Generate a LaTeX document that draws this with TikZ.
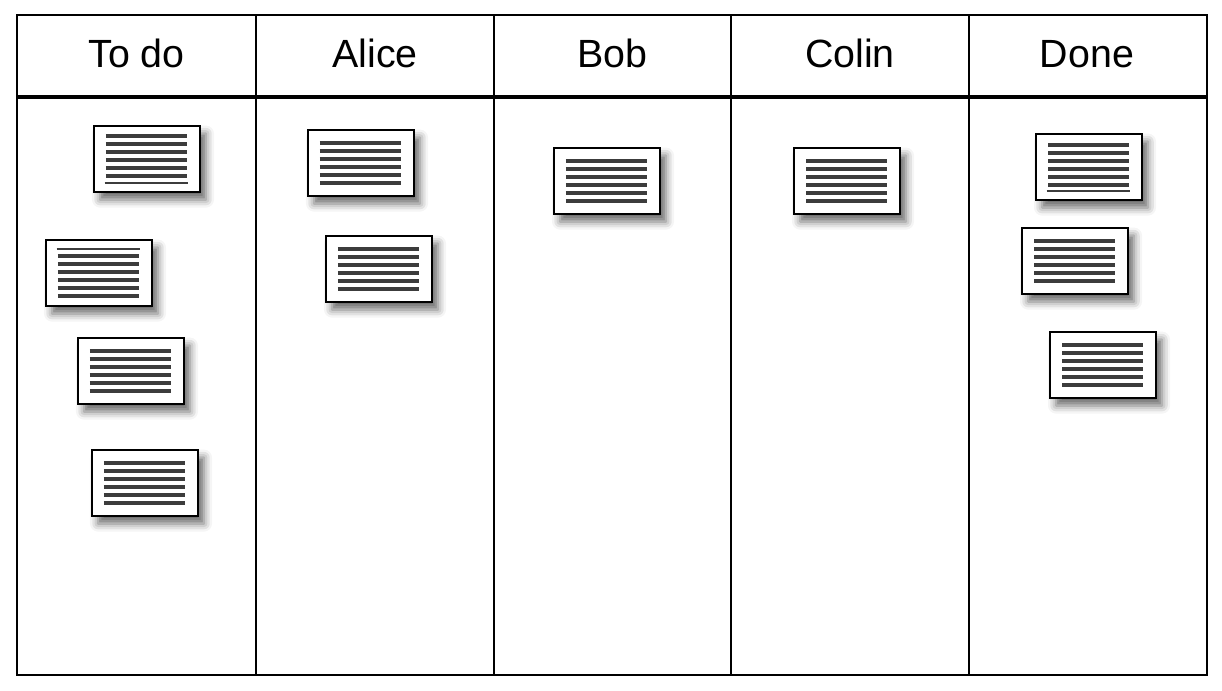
\documentclass[tikz,border=0pt]{standalone}
\usepackage{fontspec}
\setmainfont{Liberation Sans}
\usetikzlibrary{shadows.blur}
\definecolor{ink}{HTML}{3C3C3C}
\tikzset{
	card/.style={draw=black,line width=1.8pt,fill=white,inner sep=0pt,
		minimum width=2.65cm,minimum height=1.65cm,
		blur shadow={shadow xshift=0.15cm,shadow yshift=-0.19cm,shadow blur radius=0.2cm,shadow opacity=60},
		path picture={\foreach \k in {-2.5,-1.5,...,2.5}
			\draw[ink,line width=2.8pt] ([xshift=0.3cm,yshift={\k*0.2cm+(#1)}]path picture bounding box.west) -- ([xshift=-0.33cm,yshift={\k*0.2cm+(#1)}]path picture bounding box.east);}},
	card/.default=0cm
}

\begin{document}
\begin{tikzpicture}[x=0.025cm,y=-0.025cm]
			\tikzstyle{head} = [anchor=base,font=\fontsize{28}{32}\selectfont];
			\tikzstyle{thinrule} = [ink,line width=1.4pt];
			\useasboundingbox (0,0) rectangle (1222,690);
			% board
			\draw[line width=1.4pt] (17,15) rectangle (1207,675);
			\foreach \x in {256,494,731,969} \draw[line width=1.4pt] (\x,15) -- (\x,675);
			\draw[line width=2.2pt] (17,97) -- (1207,97);
			\node[head] (todo) at (136.5,68) {To do};
			\node[head] (alice) at (375,68) {Alice};
			\node[head] (bob) at (612.5,68) {Bob};
			\node[head] (colin) at (850,68) {Colin};
			\node[head] (done) at (1087,68) {Done};
			% cards
			\node[card=0.08cm] (1) at (147,159) {};
			\node[card=-0.08cm] (2) at (99,273) {};
			\node[card] (3) at (131,371) {};
			\node[card] (4) at (145,483) {};
			\node[card] (5) at (361,163) {};
			\node[card] (6) at (379,269) {};
			\node[card] (7) at (607,181) {};
			\node[card] (8) at (847,181) {};
			\node[card=0.06cm] (9) at (1089,167) {};
			\node[card] (10) at (1075,261) {};
			\node[card] (11) at (1103,365) {};
			\draw[thinrule] ([xshift=0.3cm,yshift=-0.59cm]1.west) -- ([xshift=-0.33cm,yshift=-0.59cm]1.east);
			\draw[thinrule] ([xshift=0.3cm,yshift=0.59cm]2.west) -- ([xshift=-0.33cm,yshift=0.59cm]2.east);
			\draw[thinrule] ([xshift=0.3cm,yshift=-0.61cm]9.west) -- ([xshift=-0.33cm,yshift=-0.61cm]9.east);
		\end{tikzpicture}
\end{document}
